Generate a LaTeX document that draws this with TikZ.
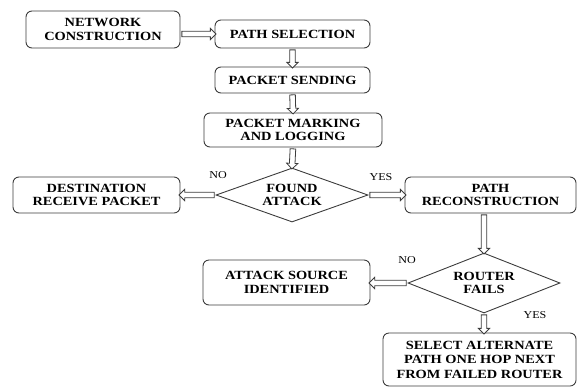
\documentclass[tikz,border=0pt]{standalone}
\usepackage{fontspec}
\setmainfont{Liberation Serif}[FakeStretch=1.15]
\usetikzlibrary{calc, positioning, shapes.geometric, shapes.arrows, arrows.meta}
\definecolor{edge}{HTML}{3C3C3C}
\begin{document}
\begin{tikzpicture}[
  x=1pt, y=-1pt,
  box/.style={draw=edge, line width=0.9pt, rounded corners=6pt, align=center,
              font=\fontsize{12.5}{13.5}\selectfont\bfseries, inner sep=2pt},
  ask/.style={diamond, draw=edge, line width=0.9pt, align=center,
              font=\fontsize{12.5}{13.5}\selectfont\bfseries, inner sep=0pt},
  hollow/.style={single arrow, draw=edge, fill=white, line width=0.8pt,
                 inner sep=2.4pt, single arrow head extend=2.8pt, outer sep=0pt},
  flow/.style={to path={let \p1=(\tikztostart), \p2=(\tikztotarget),
               \n1={veclen(\x2-\x1,\y2-\y1)}, \n2={atan2(\y2-\y1,\x2-\x1)} in
               node[hollow, minimum height=\n1, rotate=\n2]
               at ($(\tikztostart)!0.5!(\tikztotarget)$) {}}},
  tag/.style={font=\fontsize{10.5}{12}\selectfont},
]
\useasboundingbox (0,0) rectangle (577,386);
\node[box, minimum width=154pt, minimum height=37pt] (netcon) at (103,29.5) {NETWORK\\CONSTRUCTION};
\node[box, minimum width=155pt, minimum height=28pt] (pathsel) at (292.5,34) {PATH SELECTION};
\node[box, minimum width=155pt, minimum height=26pt] (pktsend) at (292.5,80) {PACKET SENDING};
\node[box, minimum width=178pt, minimum height=34pt] (pktmark) at (293,130) {PACKET MARKING\\AND LOGGING};
\node[ask, aspect=2.8, minimum width=152pt, minimum height=54pt] (found) at (292,195) {FOUND\\ATTACK};
\node[box, minimum width=167pt, minimum height=36pt] (dest) at (96.5,195) {DESTINATION\\RECEIVE PACKET};
\node[box, minimum width=171pt, minimum height=36pt] (pathrec) at (490.5,195) {PATH\\RECONSTRUCTION};
\node[ask, aspect=2.5, minimum width=152pt, minimum height=60pt] (router) at (484,283) {ROUTER\\FAILS};
\node[box, minimum width=167pt, minimum height=45pt] (atksrc) at (286.5,282.5) {ATTACK SOURCE\\IDENTIFIED};
\node[box, minimum width=193pt, minimum height=53pt,
      font=\fontsize{12.5}{14.5}\selectfont\bfseries] (altpath) at (479.5,359.5) {SELECT ALTERNATE\\PATH ONE HOP NEXT\\FROM FAILED ROUTER};
\node[tag] (nofound) at (218,175) {NO};
\node[tag] (yesfound) at (381,177) {YES};
\node[tag] (norouter) at (407,260) {NO};
\node[tag] (yesrouter) at (535,315) {YES};
\path[flow] (netcon.east |- pathsel.west) to (pathsel.west);
\path[flow] (pathsel.south) to (pktsend.north);
\path[flow] (pktsend.south) to (pktmark.north);
\path[flow] (pktmark.south) to (found.north);
\path[flow] (found.west) to (dest.east |- found.west);
\path[flow] (found.east) to (pathrec.west |- found.east);
\path[flow] (router.north |- pathrec.south) to (router.north);
\path[flow] (router.west) to (atksrc.east |- router.west);
\path[flow] (router.south) to (router.south |- altpath.north);
\end{tikzpicture}
\end{document}
